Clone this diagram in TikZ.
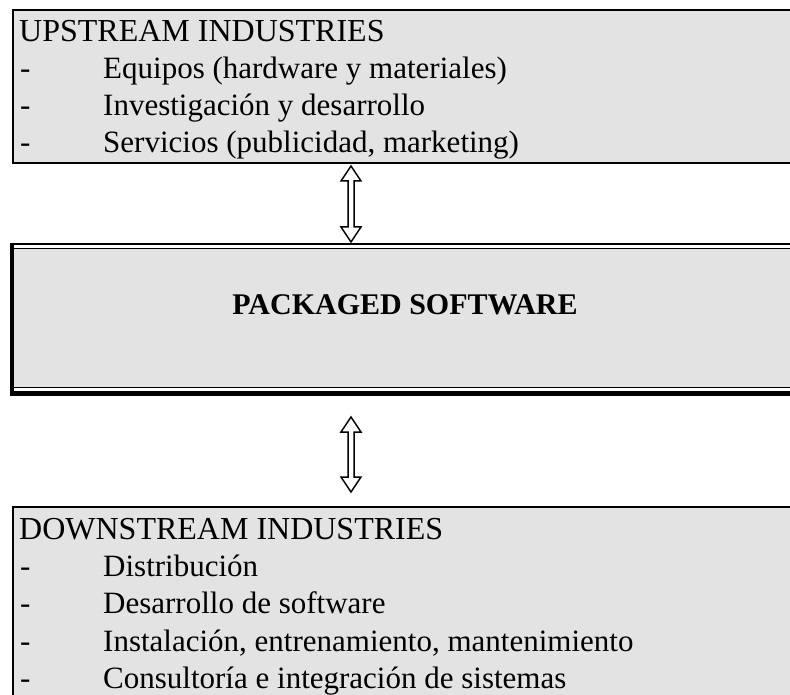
\documentclass[tikz,border=0pt]{standalone}
\usepackage{fontspec}
\setmainfont{Liberation Serif}
\usetikzlibrary{calc}

\definecolor{boxgray}{RGB}{227,227,227}

\tikzset{
  box/.style={fill=boxgray, draw=black, line width=2pt},
  item/.style={anchor=base west, inner sep=0pt, font=\fontsize{31}{37}\selectfont},
  head/.style={anchor=base west, inner sep=0pt, font=\fontsize{32}{38}\selectfont},
  blockarrow/.style={draw=black, fill=white, line width=1.5pt, line join=miter},
}

\begin{document}
\begin{tikzpicture}[x=1pt, y=-1pt]

\clip (0,0) rectangle (790,695);

% Upstream industries
\filldraw [box] ( 13, 10 ) rectangle ( 820, 163 );
\node [head] (uphead) at ( 19, 42 ) {UPSTREAM INDUSTRIES};
\node [item] (updashA) at ( 20, 79 ) {-};
\node [item] (upA) at ( 103, 79 ) {Equipos (hardware y materiales)};
\node [item] (updashB) at ( 20, 116 ) {-};
\node [item] (upB) at ( 103, 116 ) {Investigación y desarrollo};
\node [item] (updashC) at ( 20, 153 ) {-};
\node [item] (upC) at ( 103, 153 ) {Servicios (publicidad, marketing)};

% Packaged software (thin-thick border)
\fill [boxgray] ( 14, 248 ) rectangle ( 820, 388 );
\draw [line width=2pt] ( 11, 244.5 ) -- ( 820, 244.5 );
\draw [line width=1.2pt] ( 14, 248.5 ) -- ( 820, 248.5 );
\draw [line width=4pt] ( 12, 243.5 ) -- ( 12, 395.5 );
\draw [line width=1.2pt] ( 12, 387.5 ) -- ( 820, 387.5 );
\draw [line width=5pt] ( 14, 393 ) -- ( 820, 393 );
\node [font=\bfseries\fontsize{30}{36}\selectfont] (pack) at ( 405, 305 ) {PACKAGED SOFTWARE};

% Downstream industries
\filldraw [box] ( 13, 507 ) rectangle ( 820, 720 );
\node [head] (downhead) at ( 19, 539 ) {DOWNSTREAM INDUSTRIES};
\node [item] (downdashA) at ( 20, 576 ) {-};
\node [item] (downA) at ( 103, 576 ) {Distribución};
\node [item] (downdashB) at ( 20, 613 ) {-};
\node [item] (downB) at ( 103, 613 ) {Desarrollo de software};
\node [item] (downdashC) at ( 20, 651 ) {-};
\node [item] (downC) at ( 103, 651 ) {Instalación, entrenamiento, mantenimiento};
\node [item] (downdashD) at ( 20, 688 ) {-};
\node [item] (downD) at ( 103, 688 ) {Consultoría e integración de sistemas};

% Arrows
\coordinate (upend) at ( 351, 166 );
\coordinate (packtop) at ( 351, 242 );
\coordinate (packbot) at ( 351, 417 );
\coordinate (downtop) at ( 351, 492 );

\draw [blockarrow] (upend) -- ++( 10, 15 ) -- ++( -7, 0 ) -- ($ (packtop) + ( 3, -15 ) $)
  -- ++( 7, 0 ) -- (packtop) -- ++( -10, -15 ) -- ++( 7, 0 ) -- ($ (upend) + ( -3, 15 ) $)
  -- ++( -7, 0 ) -- cycle;
\draw [blockarrow] (packbot) -- ++( 10, 15 ) -- ++( -7, 0 ) -- ($ (downtop) + ( 3, -15 ) $)
  -- ++( 7, 0 ) -- (downtop) -- ++( -10, -15 ) -- ++( 7, 0 ) -- ($ (packbot) + ( -3, 15 ) $)
  -- ++( -7, 0 ) -- cycle;

\end{tikzpicture}
\end{document}
